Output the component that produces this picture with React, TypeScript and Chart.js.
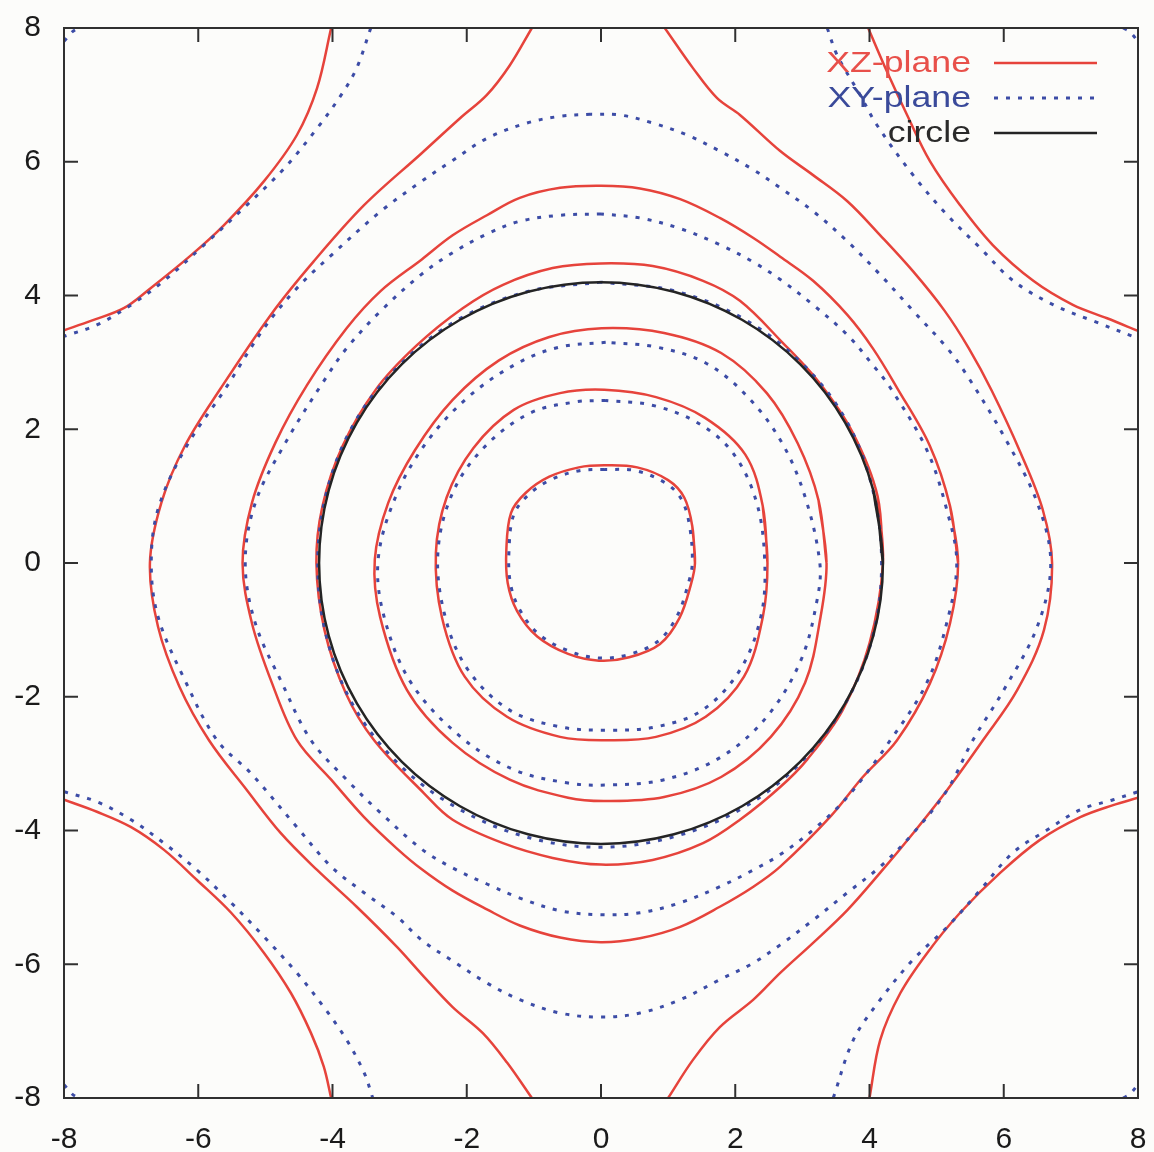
import { useEffect, useRef } from 'react';
import { Chart, registerables } from 'chart.js';

Chart.register(...registerables);

type Pt = [number, number];

// Axis range and tick step
const AXIS_MIN = -8;
const AXIS_MAX = 8;
const TICK_STEP = 2;

// ---- XZ-plane contours (solid red) ----
const xzRing1: Pt[] = [
  [1.40, 0.0], [1.36, 0.55], [1.24, 0.98], [1.0, 1.24], [0.54, 1.43], [0.05, 1.46], [-0.33, 1.43],
  [-0.77, 1.29], [-1.12, 1.05], [-1.34, 0.75], [-1.41, 0.2], [-1.39, -0.3], [-1.25, -0.72],
  [-0.95, -1.10], [-0.49, -1.36], [-0.03, -1.46], [0.42, -1.41], [0.88, -1.21], [1.17, -0.82],
  [1.34, -0.32], [1.40, 0.0],
];
const xzRing2: Pt[] = [
  [2.48, 0], [2.41, 0.85], [2.15, 1.62], [1.55, 2.17], [0.82, 2.48], [0.05, 2.59], [-0.61, 2.54],
  [-1.30, 2.29], [-1.90, 1.72], [-2.30, 0.98], [-2.46, 0.15], [-2.37, -0.81], [-2.03, -1.70],
  [-1.40, -2.30], [-0.61, -2.60], [0.07, -2.65], [0.82, -2.60], [1.56, -2.30], [2.13, -1.70],
  [2.41, -0.81], [2.48, 0],
];
const xzRing3: Pt[] = [
  [3.36, 0], [3.24, 0.94], [2.93, 1.79], [2.47, 2.54], [1.79, 3.14], [0.94, 3.44], [0.01, 3.51],
  [-0.77, 3.38], [-1.52, 3.03], [-2.21, 2.44], [-2.77, 1.69], [-3.17, 0.90], [-3.37, 0.05],
  [-3.29, -0.81], [-2.89, -1.90], [-2.21, -2.69], [-1.36, -3.24], [-0.49, -3.51], [0.07, -3.56],
  [0.94, -3.50], [1.79, -3.20], [2.53, -2.60], [3.04, -1.79], [3.27, -0.81], [3.36, 0],
];
const xzRing4: Pt[] = [
  [4.20, 0], [4.12, 1.0], [3.75, 1.95], [3.25, 2.70], [2.70, 3.30], [2.07, 3.92], [1.52, 4.22],
  [0.77, 4.44], [0, 4.48], [-0.72, 4.41], [-1.46, 4.16], [-2.06, 3.81], [-2.75, 3.25],
  [-3.35, 2.60], [-3.85, 1.75], [-4.15, 0.85], [-4.24, 0], [-4.12, -1.0], [-3.80, -1.95],
  [-3.38, -2.65], [-2.64, -3.44], [-2.21, -3.84], [-1.46, -4.19], [-0.72, -4.41], [0, -4.51],
  [0.77, -4.44], [1.52, -4.19], [2.07, -3.84], [2.67, -3.35], [3.07, -2.94], [3.60, -2.20],
  [4.00, -1.20], [4.20, 0],
];
const xzRing5: Pt[] = [
  [5.32, 0], [5.20, 0.85], [4.90, 1.75], [4.41, 2.62], [4.05, 3.21], [3.67, 3.71], [3.16, 4.22],
  [2.67, 4.58], [2.27, 4.86], [1.77, 5.16], [1.18, 5.44], [0.58, 5.60], [0, 5.64], [-0.61, 5.61],
  [-1.21, 5.46], [-1.70, 5.20], [-2.21, 4.90], [-2.67, 4.54], [-3.28, 4.07], [-3.79, 3.51],
  [-4.38, 2.66], [-4.85, 1.80], [-5.20, 0.90], [-5.34, 0], [-5.20, -0.90], [-4.90, -1.80],
  [-4.53, -2.65], [-4.02, -3.24], [-3.53, -3.80], [-3.04, -4.27], [-2.67, -4.58], [-2.21, -4.90],
  [-1.70, -5.18], [-1.21, -5.42], [-0.61, -5.60], [0, -5.67], [0.58, -5.61], [1.18, -5.44],
  [1.77, -5.14], [2.27, -4.84], [2.67, -4.54], [3.41, -3.80], [3.90, -3.20], [4.41, -2.65],
  [4.90, -1.80], [5.20, -0.90], [5.32, 0],
];
const xzLeft: Pt[] = [
  [-1.03, 8.0], [-1.36, 7.44], [-1.70, 7.0], [-2.10, 6.65], [-2.68, 6.12], [-3.53, 5.35],
  [-4.28, 4.51], [-4.92, 3.71], [-5.66, 2.62], [-6.20, 1.75], [-6.55, 0.90], [-6.72, 0],
  [-6.60, -0.95], [-6.28, -1.85], [-5.84, -2.65], [-5.28, -3.39], [-4.77, -4.04], [-4.23, -4.59],
  [-3.64, -5.14], [-3.04, -5.74], [-2.67, -6.15], [-2.21, -6.64], [-1.76, -7.03], [-1.40, -7.47],
  [-1.03, -8.0],
];
const xzRight: Pt[] = [
  [0.95, 8.0], [1.37, 7.40], [1.73, 6.95], [2.07, 6.70], [2.67, 6.16], [3.16, 5.80], [3.67, 5.41],
  [4.16, 4.90], [4.65, 4.36], [5.12, 3.77], [5.48, 3.21], [5.82, 2.58], [6.25, 1.65], [6.58, 0.80],
  [6.72, 0], [6.60, -1.0], [6.20, -1.90], [5.69, -2.65], [5.16, -3.39], [4.65, -4.04],
  [4.16, -4.63], [3.67, -5.19], [3.16, -5.68], [2.67, -6.13], [2.27, -6.53], [1.77, -6.94],
  [1.37, -7.43], [1.0, -8.0],
];
const xzTopLeft: Pt[] = [
  [-4.02, 8.0], [-4.23, 7.10], [-4.53, 6.40], [-5.02, 5.71], [-5.62, 5.05], [-6.11, 4.60],
  [-6.71, 4.11], [-7.11, 3.81], [-7.60, 3.62], [-8.0, 3.48],
];
const xzTopRight: Pt[] = [
  [3.98, 8.0], [4.26, 7.35], [4.56, 6.70], [4.90, 6.01], [5.35, 5.35], [5.84, 4.75], [6.44, 4.22],
  [7.03, 3.86], [7.54, 3.66], [8.0, 3.47],
];
const xzBottomLeft: Pt[] = [
  [-8.0, -3.54], [-7.51, -3.72], [-7.00, -3.95], [-6.51, -4.29], [-6.02, -4.74], [-5.51, -5.23],
  [-5.02, -5.83], [-4.62, -6.43], [-4.32, -7.03], [-4.13, -7.53], [-4.02, -8.0],
];
const xzBottomRight: Pt[] = [
  [4.0, -8.0], [4.16, -7.13], [4.46, -6.43], [4.86, -5.83], [5.35, -5.23], [5.95, -4.63],
  [6.54, -4.14], [7.14, -3.80], [7.63, -3.62], [8.0, -3.51],
];

// ---- XY-plane contours (dotted blue) ----
const xyRing1: Pt[] = [
  [0.05, 1.40], [-0.32, 1.38], [-0.74, 1.25], [-1.08, 1.02], [-1.30, 0.72], [-1.37, 0.2],
  [-1.35, -0.3], [-1.21, -0.70], [-0.92, -1.07], [-0.47, -1.32], [-0.03, -1.42], [0.41, -1.37],
  [0.85, -1.17], [1.13, -0.80], [1.30, -0.31], [1.36, 0], [1.32, 0.55], [1.20, 0.95],
  [0.97, 1.19], [0.52, 1.38], [0.05, 1.40],
];
const xyRing2: Pt[] = [
  [0.07, 2.43], [-0.37, 2.41], [-1.06, 2.24], [-1.74, 1.73], [-2.21, 1.05], [-2.43, 0.15],
  [-2.32, -0.81], [-1.98, -1.60], [-1.36, -2.20], [-0.61, -2.45], [0.07, -2.50], [0.82, -2.45],
  [1.51, -2.20], [2.07, -1.60], [2.38, -0.81], [2.44, 0], [2.32, 0.90], [1.97, 1.64],
  [1.45, 2.09], [0.76, 2.36], [0.07, 2.43],
];
const xyRing3: Pt[] = [
  [0.07, 3.30], [-0.61, 3.23], [-1.24, 2.99], [-1.98, 2.48], [-2.61, 1.79], [-3.06, 0.99],
  [-3.32, 0.05], [-3.23, -0.81], [-2.83, -1.79], [-2.09, -2.60], [-1.30, -3.09], [-0.49, -3.29],
  [0.07, -3.32], [0.94, -3.24], [1.79, -2.90], [2.47, -2.30], [2.98, -1.45], [3.22, -0.55],
  [3.26, 0], [3.04, 0.99], [2.70, 1.79], [2.19, 2.48], [1.56, 2.99], [0.82, 3.23], [0.07, 3.30],
];
const xyRing4: Pt[] = [
  [0, 4.20], [-1.09, 4.06], [-2.11, 3.65], [-2.98, 2.98], [-3.66, 2.12], [-4.08, 1.09], [-4.22, 0],
  [-4.09, -1.10], [-3.69, -2.13], [-3.01, -3.01], [-2.13, -3.67], [-1.10, -4.10], [0, -4.25],
  [1.10, -4.09], [2.12, -3.66], [2.98, -2.98], [3.64, -2.10], [4.05, -1.09], [4.18, 0],
  [4.05, 1.09], [3.66, 2.12], [2.99, 2.99], [2.11, 3.66], [1.09, 4.07], [0, 4.20],
];
const xyRing5: Pt[] = [
  [0, 5.22], [-0.61, 5.20], [-1.21, 5.11], [-1.70, 4.92], [-2.21, 4.64], [-2.67, 4.32],
  [-3.28, 3.77], [-3.79, 3.21], [-4.13, 2.72], [-4.70, 1.80], [-5.15, 0.90], [-5.30, 0],
  [-5.15, -0.90], [-4.75, -1.80], [-4.32, -2.65], [-3.79, -3.24], [-3.28, -3.74], [-2.67, -4.28],
  [-2.21, -4.56], [-1.70, -4.80], [-1.21, -5.01], [-0.61, -5.20], [0, -5.26], [0.58, -5.23],
  [1.18, -5.08], [1.77, -4.84], [2.27, -4.59], [2.67, -4.36], [3.16, -3.99], [3.67, -3.50],
  [4.31, -2.65], [4.85, -1.80], [5.15, -0.90], [5.30, 0], [5.15, 0.80], [4.85, 1.70],
  [4.31, 2.62], [4.05, 2.96], [3.67, 3.41], [3.16, 3.86], [2.67, 4.24], [2.27, 4.50],
  [1.77, 4.76], [1.18, 5.00], [0.58, 5.16], [0, 5.22],
];
const xyRing6: Pt[] = [
  [-0.16, 6.71], [-0.61, 6.68], [-1.10, 6.58], [-1.70, 6.35], [-2.21, 6.02],
  [-2.67, 5.71], [-3.28, 5.26], [-4.02, 4.60], [-4.53, 4.11], [-5.02, 3.51], [-5.60, 2.60],
  [-6.20, 1.70], [-6.60, 0.80], [-6.70, 0], [-6.60, -0.80], [-6.20, -1.75], [-5.72, -2.65],
  [-5.22, -3.14], [-4.53, -3.95], [-4.02, -4.54], [-3.53, -4.93], [-3.04, -5.29], [-2.67, -5.64],
  [-2.21, -5.95], [-1.70, -6.28], [-1.21, -6.53], [-0.61, -6.73], [0, -6.79], [0.58, -6.73],
  [1.18, -6.53], [1.77, -6.23], [2.27, -5.98], [2.67, -5.71], [3.16, -5.34], [3.67, -4.93],
  [4.16, -4.54], [4.65, -4.04], [5.16, -3.39], [5.54, -2.65], [6.00, -1.90], [6.50, -0.95],
  [6.70, 0], [6.50, 0.90], [6.00, 1.90], [5.45, 2.81], [5.16, 3.21], [4.65, 3.77], [4.16, 4.31],
  [3.67, 4.81], [3.16, 5.26], [2.67, 5.61], [2.27, 5.88], [1.77, 6.16], [1.28, 6.40], [0.77, 6.58],
  [0.28, 6.70], [-0.16, 6.71],
];
const xyTopLeft: Pt[] = [
  [-3.43, 8.0], [-3.64, 7.40], [-3.87, 7.0], [-4.23, 6.50], [-4.72, 5.90], [-5.32, 5.31],
  [-5.92, 4.75], [-6.51, 4.22], [-7.00, 3.86], [-7.51, 3.56], [-8.0, 3.39],
];
const xyTopRight: Pt[] = [
  [3.37, 8.0], [3.52, 7.59], [3.86, 7.0], [4.11, 6.55], [4.65, 5.80], [5.16, 5.20], [5.65, 4.71],
  [6.14, 4.22], [6.74, 3.86], [7.33, 3.62], [8.0, 3.36],
];
const xyBottomLeft: Pt[] = [
  [-8.0, -3.42], [-7.51, -3.57], [-7.00, -3.84], [-6.51, -4.19], [-6.02, -4.59], [-5.51, -5.08],
  [-5.02, -5.59], [-4.53, -6.13], [-4.13, -6.64], [-3.79, -7.13], [-3.53, -7.62], [-3.40, -8.0],
];
const xyBottomRight: Pt[] = [
  [3.46, -8.0], [3.76, -7.13], [4.16, -6.53], [4.65, -5.93], [5.16, -5.44], [5.65, -4.89],
  [6.14, -4.33], [6.65, -3.99], [7.14, -3.69], [7.63, -3.54], [8.0, -3.42],
];
// tiny arcs clipped in the four plot corners
const xyCornerTL: Pt[] = [[-8.0, 7.80], [-7.88, 7.94], [-7.78, 8.0]];
const xyCornerTR: Pt[] = [[7.78, 8.0], [7.88, 7.94], [8.0, 7.80]];
const xyCornerBL: Pt[] = [[-8.0, -7.80], [-7.88, -7.94], [-7.78, -8.0]];
const xyCornerBR: Pt[] = [[7.78, -8.0], [7.88, -7.94], [8.0, -7.80]];

// ---- reference circle, radius 4.2 ----
const circlePts: Pt[] = [
  [4.2, 0], [4.057, 1.087], [3.637, 2.1], [2.970, 2.970], [2.1, 3.637], [1.087, 4.057], [0, 4.2],
  [-1.087, 4.057], [-2.1, 3.637], [-2.970, 2.970], [-3.637, 2.1], [-4.057, 1.087], [-4.2, 0],
  [-4.057, -1.087], [-3.637, -2.1], [-2.970, -2.970], [-2.1, -3.637], [-1.087, -4.057], [0, -4.2],
  [1.087, -4.057], [2.1, -3.637], [2.970, -2.970], [3.637, -2.1], [4.057, -1.087], [4.2, 0],
];

const xzCurves = [xzRing1, xzRing2, xzRing3, xzRing4, xzRing5, xzLeft, xzRight,
  xzTopLeft, xzTopRight, xzBottomLeft, xzBottomRight];
const xyCurves = [xyRing1, xyRing2, xyRing3, xyRing4, xyRing5, xyRing6,
  xyTopLeft, xyTopRight, xyBottomLeft, xyBottomRight,
  xyCornerTL, xyCornerTR, xyCornerBL, xyCornerBR];

const XZ_COLOR = '#e6433b';
const XY_COLOR = '#3c4ca6';
const CIRCLE_COLOR = '#242424';
const XY_DASH = [4, 8];

const legendRows = [
  { label: 'XZ-plane', color: XZ_COLOR, text: '#e8504a', dash: [] as number[], width: 2.5 },
  { label: 'XY-plane', color: XY_COLOR, text: '#3a4a9a', dash: XY_DASH, width: 3 },
  { label: 'circle', color: CIRCLE_COLOR, text: '#2a2a2a', dash: [] as number[], width: 2.5 },
];

const isClosed = (pts: Pt[]) =>
  pts.length > 2 && pts[0][0] === pts[pts.length - 1][0] && pts[0][1] === pts[pts.length - 1][1];

// Solid closed loops run one segment past their start so the spline joins smoothly
const toXY = (pts: Pt[], wrap: boolean) => {
  const path = wrap && isClosed(pts) ? [...pts, pts[1]] : pts;
  return path.map(([x, y]) => ({ x, y }));
};

// Frame with inward ticks on all four sides
const framePlugin = {
  id: 'frameTicks',
  afterDatasetsDraw(chart: any) {
    const { ctx, chartArea: a, scales } = chart;
    const len = 14;
    ctx.save();
    ctx.strokeStyle = '#303030';
    ctx.lineWidth = 2;
    ctx.beginPath();
    for (const t of scales.x.ticks) {
      const px = scales.x.getPixelForValue(t.value);
      ctx.moveTo(px, a.bottom); ctx.lineTo(px, a.bottom - len);
      ctx.moveTo(px, a.top); ctx.lineTo(px, a.top + len);
    }
    for (const t of scales.y.ticks) {
      const py = scales.y.getPixelForValue(t.value);
      ctx.moveTo(a.left, py); ctx.lineTo(a.left + len, py);
      ctx.moveTo(a.right, py); ctx.lineTo(a.right - len, py);
    }
    ctx.stroke();
    ctx.strokeRect(a.left, a.top, a.right - a.left, a.bottom - a.top);
    ctx.restore();
  },
};

// Key in the top-right corner: label text, then a line sample
const keyPlugin = {
  id: 'cornerKey',
  afterDraw(chart: any) {
    const { ctx } = chart;
    const textRight = 971;
    const x0 = 994;
    const x1 = 1097;
    const rows = [63, 98, 133];
    ctx.save();
    legendRows.forEach((r, i) => {
      const y = rows[i];
      ctx.save();
      ctx.translate(textRight, y + 1);
      ctx.scale(1.19, 1);
      ctx.font = '30px "Liberation Sans", Arial, Helvetica, sans-serif';
      ctx.fillStyle = r.text;
      ctx.textAlign = 'right';
      ctx.textBaseline = 'middle';
      ctx.fillText(r.label, 0, 0);
      ctx.restore();
      ctx.beginPath();
      ctx.strokeStyle = r.color;
      ctx.lineWidth = r.width;
      ctx.setLineDash(r.dash);
      ctx.moveTo(x0, y);
      ctx.lineTo(x1, y);
      ctx.stroke();
    });
    ctx.restore();
  },
};

const flattenPadding = (s: any) => {
  s.paddingTop = 0;
  s.paddingBottom = 0;
  s.paddingLeft = 0;
  s.paddingRight = 0;
};

export default function App() {
  const ref = useRef<HTMLCanvasElement | null>(null);

  useEffect(() => {
    if (!ref.current) return;
    const datasets: any[] = [];
    xzCurves.forEach((c) => datasets.push({
      data: toXY(c, true), showLine: true, pointRadius: 0, borderColor: XZ_COLOR, borderWidth: 2.5,
      tension: 0.35, fill: false, order: 3,
    }));
    xyCurves.forEach((c) => datasets.push({
      data: toXY(c, false), showLine: true, pointRadius: 0, borderColor: XY_COLOR, borderWidth: 3,
      borderDash: XY_DASH, tension: 0.35, fill: false, order: 2,
    }));
    datasets.push({
      data: toXY(circlePts, true), showLine: true, pointRadius: 0, borderColor: CIRCLE_COLOR,
      borderWidth: 2.5, tension: 0.34, fill: false, order: 1,
    });

    const tickFont = { family: '"Liberation Sans", Arial, Helvetica, sans-serif', size: 30 };
    const chart = new Chart(ref.current, {
      type: 'scatter',
      data: { datasets },
      options: {
        animation: false,
        responsive: false,
        events: [],
        layout: { padding: { top: 28, right: 16, left: 0, bottom: 0 } },
        plugins: { legend: { display: false }, tooltip: { enabled: false } },
        scales: {
          x: {
            type: 'linear', min: AXIS_MIN, max: AXIS_MAX,
            ticks: { stepSize: TICK_STEP, font: tickFont, color: '#1a1a1a', padding: 24, maxRotation: 0 },
            grid: { display: false, drawTicks: false },
            border: { display: false },
            afterFit: (s: any) => { s.height = 54; flattenPadding(s); },
          },
          y: {
            type: 'linear', min: AXIS_MIN, max: AXIS_MAX,
            ticks: { stepSize: TICK_STEP, font: tickFont, color: '#1a1a1a', padding: 23 },
            grid: { display: false, drawTicks: false },
            border: { display: false },
            afterFit: (s: any) => { s.width = 64; flattenPadding(s); },
          },
        },
      },
      plugins: [framePlugin, keyPlugin],
    });
    return () => chart.destroy();
  }, []);

  return (
    <div style={{ position: 'absolute', left: 0, top: 0, width: 1154, height: 1152, background: '#fcfcfa' }}>
      <canvas ref={ref} width={1154} height={1152} style={{ display: 'block' }} />
    </div>
  );
}
